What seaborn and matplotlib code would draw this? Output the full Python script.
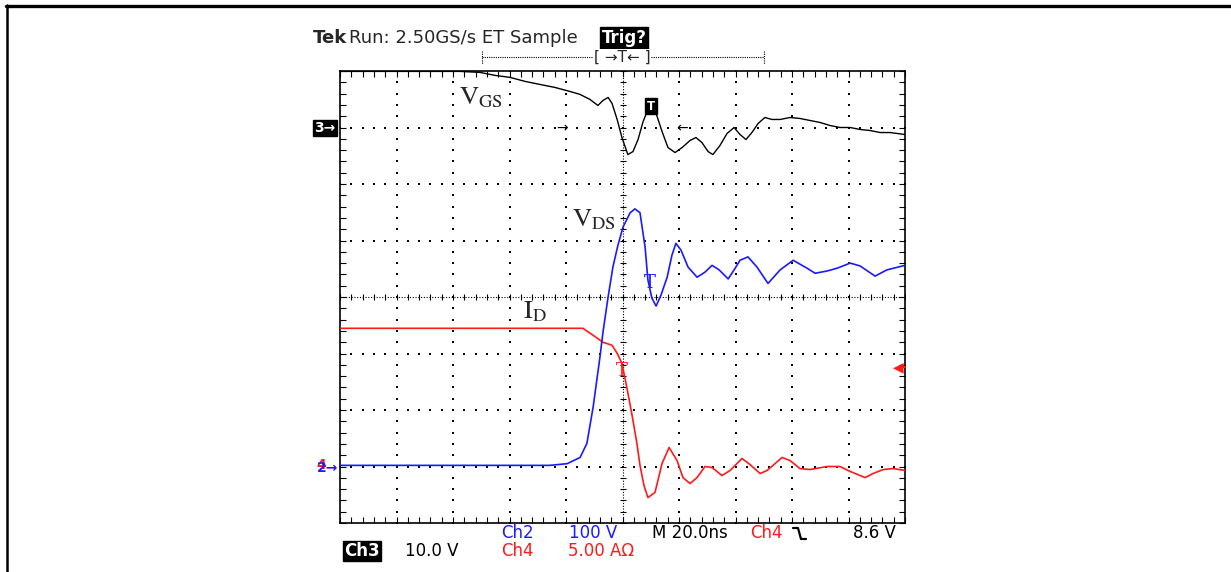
import numpy as np
import pandas as pd
import matplotlib
matplotlib.use("Agg")
import matplotlib.pyplot as plt
import seaborn as sns
from matplotlib.lines import Line2D

# ---------------- data (time in ns, trigger at 0) ----------------
t_vds = [-100.0, -78.8, -57.5, -36.3, -25.7, -19.6, -15.0, -12.6, -10.4, -8.0, -6.9, -5.1,
         -3.4, -1.6, 0.2, 2.7, 4.4, 6.2, 8.0, 9.0, 10.4, 11.9, 13.6, 15.8, 17.5, 18.9,
         20.7, 23.2, 26.4, 29.2, 31.7, 34.2, 37.4, 39.5, 41.6, 44.4, 47.6, 51.5, 55.8,
         60.4, 65.3, 68.2, 72.4, 76.0, 80.6, 84.1, 89.4, 93.6, 100.0]
vds_v = [2, 2, 2, 2, 2, 5, 16, 41, 105, 193, 238, 300,
         353, 392, 424, 449, 456, 449, 388, 330, 298, 284, 303, 335, 374, 395,
         383, 353, 335, 344, 356, 348, 332, 348, 365, 371, 353, 324, 348,
         365, 351, 342, 346, 351, 360, 355, 337, 348, 356]

t_id = [-100.0, -78.8, -57.5, -36.3, -14.0, -10.4, -6.9, -3.7, -1.9, -0.2, 1.6, 3.4,
        5.1, 6.2, 7.6, 9.0, 11.5, 14.0, 16.5, 19.3, 21.4, 23.9, 26.4, 29.2, 31.7,
        35.2, 38.1, 42.3, 45.1, 48.7, 51.2, 56.5, 59.3, 62.8, 66.4, 72.4, 77.0,
        80.6, 85.9, 88.7, 92.3, 95.8, 100.0]
id_a = [12.23, 12.23, 12.23, 12.23, 12.23, 11.61, 10.99, 10.73, 10.02, 9.13, 6.91, 4.52,
        2.04, 0.09, -1.68, -2.75, -2.30, 0.27, 1.68, 0.53, -0.98, -1.51, -0.98, 0.0, -0.09,
        -0.80, -0.35, 0.71, 0.18, -0.62, -0.35, 0.80, 0.53, -0.18, -0.27, 0.0, 0.0,
        -0.44, -0.98, -0.62, -0.27, -0.18, -0.35]

t_vgs = [-100.0, -78.8, -57.5, -50.4, -45.1, -39.8, -34.5, -29.2, -23.9, -18.6, -15.0,
         -11.5, -8.7, -6.9, -5.1, -3.7, -1.9, -0.2, 1.9, 3.7, 5.5, 7.3, 9.0, 10.4, 11.9,
         14.0, 16.1, 18.6, 21.1, 23.9, 26.0, 28.1, 30.3, 32.0, 34.5, 37.0, 39.5, 41.6,
         43.7, 45.8, 48.0, 50.4, 52.9, 55.8, 59.3, 62.8, 66.4, 69.9, 73.5, 77.0, 80.6,
         84.1, 87.6, 91.2, 94.7, 100.0]
vgs_v = [9.93, 9.93, 9.93, 9.75, 9.22, 8.87, 8.16, 7.62, 7.09, 6.38, 5.85,
         4.96, 3.90, 4.79, 5.32, 4.26, 1.42, -1.77, -4.79, -4.26, -2.13, 1.06, 3.19, 3.55, 2.48,
         -0.71, -3.55, -4.43, -3.55, -2.30, -1.77, -2.66, -4.26, -4.79, -3.19, -1.06, 0.0, -1.24,
         -2.13, -0.89, 0.71, 1.77, 1.42, 1.42, 1.77, 1.60, 1.24, 0.89, 0.35, 0.0, 0.0,
         -0.35, -0.53, -0.89, -0.89, -1.24]

# scope channel settings (per division) and reference levels (divisions)
ch2_scale, ch2_ref = 100.0, 1.0   # V/div  (VDS)
ch4_scale, ch4_ref = 5.0, 1.0     # A/div  (ID)
ch3_scale, ch3_ref = 10.0, 7.0    # V/div  (VGS)
time_per_div = 20.0

# ---------------- figure ----------------
W, H = 1231, 572
sns.set_style("white")
plt.rcParams["font.family"] = ["DejaVu Sans"]
plt.rcParams["mathtext.fontset"] = "stix"

fig = plt.figure(figsize=(W / 100, H / 100), dpi=100)
fig.patch.set_facecolor("white")


def fx(px):
    return px / W


def fy(py):
    return 1 - py / H


ax = fig.add_axes([fx(340), fy(523), 565 / W, 452 / H])
ax.set_xlim(-5 * time_per_div, 5 * time_per_div)
ax.set_ylim(0, 8)

# grid dots on major divisions
xd = np.arange(-100, 100.01, 4.0)
yd = np.arange(0, 8.001, 0.2)
for gx in np.arange(-80, 81, 20):
    if gx == 0:
        continue
    ax.scatter(np.full(len(yd), gx), yd, s=1.6, color="black", marker="s", linewidths=0, zorder=1)
for gy in range(1, 8):
    if gy == 4:
        continue
    ax.scatter(xd, np.full(len(xd), gy), s=1.6, color="black", marker="s", linewidths=0, zorder=1)

# center crosshair
ax.axvline(0, color="black", lw=0.8, ls=(0, (1, 1.5)), zorder=1)
ax.axhline(4, color="black", lw=0.8, ls=(0, (1, 1.5)), zorder=1)
ax.plot(xd, np.full(len(xd), 4), ls="none", marker="|", ms=5, mew=0.8, color="black", zorder=1)
ax.plot(np.zeros(len(yd)), yd, ls="none", marker="_", ms=5, mew=0.8, color="black", zorder=1)

# border ticks
ax.set_xticks(np.arange(-100, 100.01, 20))
ax.set_xticks(xd, minor=True)
ax.set_yticks(np.arange(0, 8.01, 1))
ax.set_yticks(yd, minor=True)
ax.tick_params(which="both", direction="in", length=4, width=0.8, color="black",
               top=True, right=True, bottom=True, left=True,
               labelbottom=False, labelleft=False)
for sp in ax.spines.values():
    sp.set_color("black")
    sp.set_linewidth(1.2)

# traces
df_vgs = pd.DataFrame({"t": t_vgs, "y": np.array(vgs_v) / ch3_scale + ch3_ref})
df_vds = pd.DataFrame({"t": t_vds, "y": np.array(vds_v) / ch2_scale + ch2_ref})
df_id = pd.DataFrame({"t": t_id, "y": np.array(id_a) / ch4_scale + ch4_ref})
sns.lineplot(data=df_vgs, x="t", y="y", ax=ax, color="black", lw=1.0, estimator=None, sort=False, zorder=3)
sns.lineplot(data=df_id, x="t", y="y", ax=ax, color="#ff1a1a", lw=1.2, estimator=None, sort=False, zorder=3)
sns.lineplot(data=df_vds, x="t", y="y", ax=ax, color="#1a1aff", lw=1.2, estimator=None, sort=False, zorder=4)
ax.set_xlabel("")
ax.set_ylabel("")

# trace labels
fig.text(fx(459), fy(104), r"$\mathrm{V}_{\mathrm{GS}}$", fontsize=19, va="baseline", ha="left")
fig.text(fx(572), fy(226), r"$\mathrm{V}_{\mathrm{DS}}$", fontsize=19, va="baseline", ha="left")
fig.text(fx(523), fy(318), r"$\mathrm{I}_{\mathrm{D}}$", fontsize=19, va="baseline", ha="left")

# markers inside plot
fig.text(fx(651), fy(106), "T", fontsize=8.5, color="white", fontweight="bold", ha="center", va="center",
         bbox=dict(boxstyle="square,pad=0.15", fc="black", ec="black"))
fig.text(fx(650), fy(283), "T", fontsize=13, color="#1a1aff", ha="center", va="center", family="DejaVu Serif")
fig.text(fx(622), fy(371), "T", fontsize=13, color="#ff1a1a", ha="center", va="center", family="DejaVu Serif")
fig.text(fx(562), fy(128), "→", fontsize=10, color="black", ha="center", va="center")
fig.text(fx(682), fy(128), "←", fontsize=10, color="black", ha="center", va="center")
fig.text(fx(898), fy(367), "◀", fontsize=10, color="#ff1a1a", ha="center", va="center")
fig.add_artist(Line2D([fx(899), fx(905)], [fy(367), fy(367)], color="#ff1a1a", lw=1.5))

# left channel markers
fig.text(fx(314), fy(128), "3→", fontsize=10, color="white", fontweight="bold", ha="left", va="center",
         bbox=dict(boxstyle="square,pad=0.1", fc="black", ec="black"))
fig.text(fx(316), fy(465), "4", fontsize=10, color="#ff1a1a", fontweight="bold", ha="left", va="center")
fig.text(fx(317), fy(468), "2→", fontsize=10, color="#1a1aff", fontweight="bold", ha="left", va="center")

# header
fig.text(fx(313), fy(38), "Tek", fontsize=13, fontweight="bold", ha="left", va="center")
fig.text(fx(349), fy(38), "Run: 2.50GS/s ET Sample", fontsize=13, ha="left", va="center")
fig.text(fx(624), fy(38), "Trig?", fontsize=12, color="white", fontweight="bold", ha="center", va="center",
         bbox=dict(boxstyle="square,pad=0.1", fc="black", ec="black"))

# top record bar
fig.add_artist(Line2D([fx(482), fx(764)], [fy(57), fy(57)], color="black", lw=0.8, ls=(0, (1, 1))))
for px in (482, 764):
    fig.add_artist(Line2D([fx(px), fx(px)], [fy(51), fy(64)], color="black", lw=0.8, ls=(0, (1, 1))))
fig.text(fx(622), fy(57), "[ →T← ]", fontsize=11, ha="center", va="center",
         bbox=dict(boxstyle="square,pad=0.05", fc="white", ec="none"))

# bottom readouts
ry1, ry2 = 533, 551
fs = 12
fig.text(fx(501), fy(ry1), "Ch2", fontsize=fs, color="#1a1aff", ha="left", va="center")
fig.text(fx(569), fy(ry1), "100 V", fontsize=fs, color="#1a1aff", ha="left", va="center")
fig.text(fx(652), fy(ry1), "M 20.0ns", fontsize=fs, color="black", ha="left", va="center")
fig.text(fx(750), fy(ry1), "Ch4", fontsize=fs, color="#ff1a1a", ha="left", va="center")
fig.add_artist(Line2D([fx(793), fx(798), fx(801), fx(806)],
                      [fy(528), fy(528), fy(539), fy(539)], color="black", lw=1.6))
fig.text(fx(853), fy(ry1), "8.6 V", fontsize=fs, color="black", ha="left", va="center")

fig.text(fx(344), fy(ry2), "Ch3", fontsize=fs, color="white", fontweight="bold", ha="left", va="center",
         bbox=dict(boxstyle="square,pad=0.08", fc="black", ec="black"))
fig.text(fx(405), fy(ry2), "10.0 V", fontsize=fs, color="black", ha="left", va="center")
fig.text(fx(501), fy(ry2), "Ch4", fontsize=fs, color="#ff1a1a", ha="left", va="center")
fig.text(fx(568), fy(ry2), "5.00 AΩ", fontsize=fs, color="#ff1a1a", ha="left", va="center")

# outer page frame (top and left edge)
fig.add_artist(Line2D([fx(6), 1.0], [fy(6), fy(6)], color="black", lw=2.4))
fig.add_artist(Line2D([fx(7), fx(7)], [fy(5), 0.0], color="black", lw=1.8))

fig.savefig("out.png", dpi=100, facecolor="white")
